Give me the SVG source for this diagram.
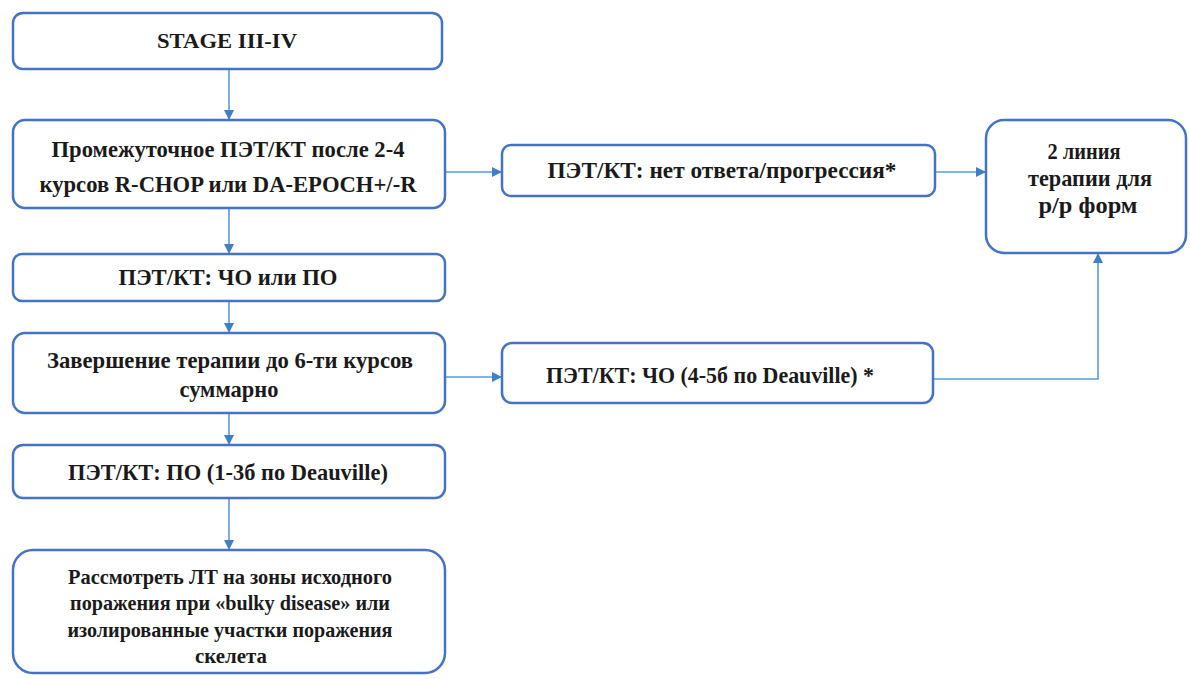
<svg xmlns="http://www.w3.org/2000/svg" width="1190" height="679" viewBox="0 0 1190 679">
<style>
.box{fill:#ffffff;stroke:#4472C4;stroke-width:2.5}
.t{font-family:'Liberation Serif','DejaVu Serif',serif;font-weight:bold;font-size:23px;fill:#1a1a1a;text-anchor:middle}
.s{font-size:21px}
.c{fill:none;stroke:#5B9BD5;stroke-width:1.6}
</style>
<defs>
<marker id="ah" markerWidth="10" markerHeight="10" refX="9" refY="5" orient="auto" markerUnits="userSpaceOnUse">
<path d="M0,0 L10,5 L0,10 Z" fill="#3F7FC4"/>
</marker>
</defs>
<rect width="1190" height="679" fill="#ffffff"/>
<g id="connectors">
<path class="c" d="M229,69 V119" marker-end="url(#ah)"/>
<path class="c" d="M229,208 V253" marker-end="url(#ah)"/>
<path class="c" d="M229,301 V332" marker-end="url(#ah)"/>
<path class="c" d="M229,413 V444" marker-end="url(#ah)"/>
<path class="c" d="M229,498 V549" marker-end="url(#ah)"/>
<path class="c" d="M445,172 H501" marker-end="url(#ah)"/>
<path class="c" d="M935,172 H985" marker-end="url(#ah)"/>
<path class="c" d="M445,377 H501" marker-end="url(#ah)"/>
<path class="c" d="M933,379 H1098 V254" marker-end="url(#ah)"/>
</g>
<g id="n1">
<rect class="box" x="13" y="13" width="429" height="56" rx="10"/>
<text class="t s" x="227" y="48" textLength="140" lengthAdjust="spacingAndGlyphs">STAGE III-IV</text>
</g>
<g id="n2">
<rect class="box" x="13" y="120" width="432" height="88" rx="12"/>
<text class="t" x="228" y="157" textLength="353" lengthAdjust="spacingAndGlyphs">Промежуточное ПЭТ/КТ после 2-4</text>
<text class="t" x="228" y="192" textLength="377" lengthAdjust="spacingAndGlyphs">курсов R-CHOP или DA-EPOCH+/-R</text>
</g>
<g id="n3">
<rect class="box" x="502" y="145" width="433" height="51" rx="9"/>
<text class="t" x="722" y="178" textLength="349" lengthAdjust="spacingAndGlyphs">ПЭТ/КТ: нет ответа/прогрессия*</text>
</g>
<g id="n4">
<rect class="box" x="986" y="120" width="200" height="133" rx="18"/>
<text class="t" x="1084" y="159" textLength="73" lengthAdjust="spacingAndGlyphs">2 линия</text>
<text class="t" x="1090" y="186" textLength="124" lengthAdjust="spacingAndGlyphs">терапии для</text>
<text class="t" x="1088" y="213" textLength="99" lengthAdjust="spacingAndGlyphs">р/р форм</text>
</g>
<g id="n5">
<rect class="box" x="13" y="254" width="432" height="47" rx="9"/>
<text class="t" x="228" y="285" textLength="219" lengthAdjust="spacingAndGlyphs">ПЭТ/КТ: ЧО или ПО</text>
</g>
<g id="n6">
<rect class="box" x="13" y="333" width="432" height="80" rx="12"/>
<text class="t" x="230" y="368" textLength="366" lengthAdjust="spacingAndGlyphs">Завершение терапии до 6-ти курсов</text>
<text class="t" x="229" y="397" textLength="99" lengthAdjust="spacingAndGlyphs">суммарно</text>
</g>
<g id="n7">
<rect class="box" x="502" y="343" width="431" height="60" rx="10"/>
<text class="t" x="710" y="383" textLength="328" lengthAdjust="spacingAndGlyphs">ПЭТ/КТ: ЧО (4-5б по Deauville) *</text>
</g>
<g id="n8">
<rect class="box" x="13" y="445" width="432" height="53" rx="10"/>
<text class="t" x="228" y="480" textLength="320" lengthAdjust="spacingAndGlyphs">ПЭТ/КТ: ПО (1-3б по Deauville)</text>
</g>
<g id="n9">
<rect class="box" x="13" y="550" width="432" height="123" rx="20"/>
<text class="t s" x="230" y="584" textLength="324" lengthAdjust="spacingAndGlyphs">Рассмотреть ЛТ на зоны исходного</text>
<text class="t s" x="230" y="610" textLength="320" lengthAdjust="spacingAndGlyphs">поражения при «bulky disease» или</text>
<text class="t s" x="230" y="637" textLength="325" lengthAdjust="spacingAndGlyphs">изолированные участки поражения</text>
<text class="t s" x="231" y="663" textLength="72" lengthAdjust="spacingAndGlyphs">скелета</text>
</g>
</svg>
